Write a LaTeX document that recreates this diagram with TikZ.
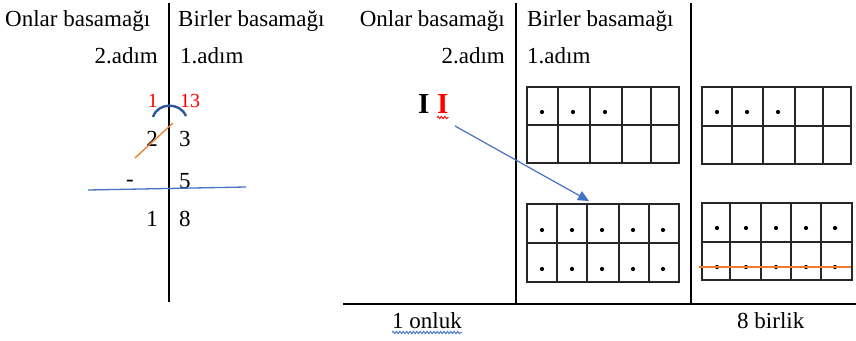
\documentclass[tikz,border=0pt]{standalone}
\usepackage{fontspec}
\setmainfont{Liberation Serif}
\usetikzlibrary{decorations.pathmorphing,arrows.meta}
\definecolor{ablue}{HTML}{4472C4}
\definecolor{dblue}{HTML}{2F5597}
\definecolor{aorange}{HTML}{ED7D31}
\definecolor{ared}{HTML}{FF0000}
\newcommand\tenframe[6]{%
  \draw[frm] (#1,#2) rectangle (#3,#4);
  \draw[frm] (#1,#5) -- (#3,#5);
  \foreach \cc in {#6} {\draw[frm] (\cc,#2) -- (\cc,#4);}
}
\begin{document}
\begin{tikzpicture}[x=1pt,y=-1pt,
  lbl/.style={inner sep=0pt,font=\fontsize{23}{28}\selectfont},
  redlbl/.style={inner sep=0pt,text=ared,font=\fontsize{20}{24}\selectfont},
  bigI/.style={inner sep=0pt,font=\fontsize{29}{34}\selectfont\bfseries},
  axis/.style={line width=2.8pt,black},
  frm/.style={line width=1.1pt,draw=black!85},
  wavy/.style={decorate,decoration={snake,amplitude=1.2pt,segment length=3.4pt},line width=0.9pt}]
\useasboundingbox (0,0) rectangle (856,340);
% ---------- left panel ----------
\draw[axis] (169,3) -- (169,302);
\node[lbl,anchor=base west] (lon) at (5,26) {Onlar basamağı};
\node[lbl,anchor=base west] (lbir) at (178,26) {Birler basamağı};
\node[lbl,anchor=base east] (l2a) at (158,63) {2.adım};
\node[lbl,anchor=base west] (l1a) at (180,63) {1.adım};
\node[redlbl,anchor=base east] (r1) at (158,107) {1};
\node[redlbl,anchor=base west] (r13) at (180,107) {13};
\node[lbl,anchor=base east] (t2) at (158,146) {2};
\node[lbl,anchor=base west] (t3) at (179,146) {3};
\node[lbl,anchor=base east] (minus) at (134,186) {-};
\node[lbl,anchor=base west] (t5) at (179,188) {5};
\node[lbl,anchor=base east] (t1) at (158,226) {1};
\node[lbl,anchor=base west] (t8) at (179,226) {8};
\coordinate (arcA) at (153,117);
\coordinate (arcB) at (186,116);
\draw[dblue,line width=2.4pt] (arcA) .. controls (158,102) and (180,102) .. (arcB);
\coordinate (crA) at (135,158);
\coordinate (crB) at (173,123);
\draw[aorange,line width=1.3pt] (crA) -- (crB);
\coordinate (ulA) at (88,190);
\coordinate (ulB) at (246,187);
\draw[ablue,line width=1.3pt] (ulA) -- (ulB);
% ---------- right panel ----------
\draw[axis] (343,304) -- (856,304);
\draw[axis] (516,3) -- (516,304);
\draw[axis] (691,3) -- (691,304);
\node[lbl,anchor=base east] (ron) at (505,26) {Onlar basamağı};
\node[lbl,anchor=base west] (rbir) at (527,26) {Birler basamağı};
\node[lbl,anchor=base east] (r2a) at (505,63) {2.adım};
\node[lbl,anchor=base west] (r1a) at (527,63) {1.adım};
\node[bigI,anchor=base west] (Ib) at (418,113) {I};
\node[bigI,anchor=base west,text=ared] (Ir) at (437,113) {I};
\draw[ared,wavy] ([yshift=-4.5pt]Ir.base west) -- ([yshift=-4.5pt]Ir.base east);
\node[lbl,anchor=base west] (onluk) at (392,328) {1 onluk};
\draw[ablue,wavy] ([yshift=-4.5pt]onluk.base west) -- ([yshift=-4.5pt]onluk.base east);
\node[lbl,anchor=base west] (birlik) at (737,328) {8 birlik};
% ten frames
\tenframe{527}{87}{679}{163}{125}{558,590,622,651}
\foreach \x in {542,573,605} {\fill (\x,112) circle[radius=2.1pt];}
\tenframe{527}{204}{679}{282}{243}{557,587,619,649}
\foreach \x in {542,572,602,633,663} {\fill (\x,230) circle[radius=2.1pt]; \fill (\x,269) circle[radius=2.1pt];}
\tenframe{702}{87}{851}{164}{126}{732,763,795,823}
\foreach \x in {717,747,778} {\fill (\x,112) circle[radius=2.1pt];}
\tenframe{702}{203}{852}{280}{242}{730,761,791,821}
\foreach \x in {717,746,776,806,835} {\fill (\x,228) circle[radius=2.1pt]; \fill (\x,267) circle[radius=2.1pt];}
\coordinate (xoA) at (699,267);
\coordinate (xoB) at (851,267);
\draw[aorange,line width=1.3pt] (xoA) -- (xoB);
% arrow
\coordinate (arrS) at (455,126);
\coordinate (arrE) at (589,201);
\draw[ablue,line width=1.2pt,-{Triangle[length=11pt,width=10pt]}] (arrS) -- (arrE);
\end{tikzpicture}
\end{document}
